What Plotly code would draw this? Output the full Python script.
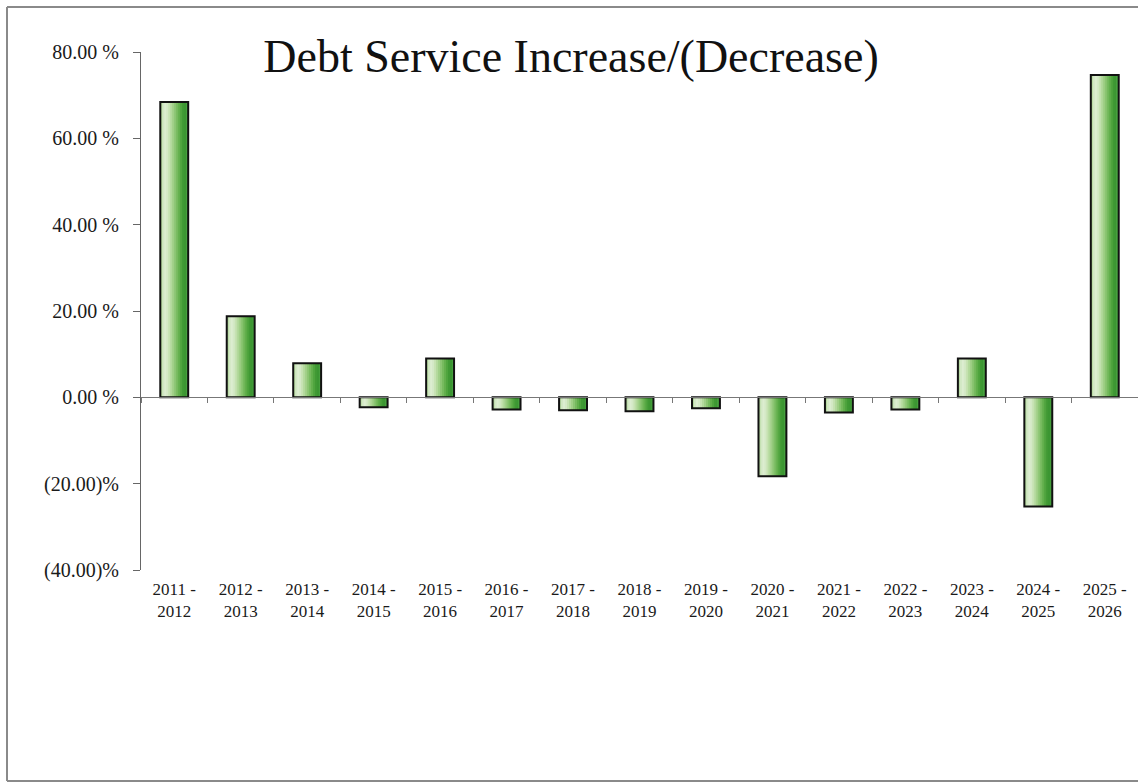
import plotly.graph_objects as go

# Fiscal-year periods and the year-over-year change in debt service (%)
periods = [
    "2011 -<br>2012", "2012 -<br>2013", "2013 -<br>2014", "2014 -<br>2015",
    "2015 -<br>2016", "2016 -<br>2017", "2017 -<br>2018", "2018 -<br>2019",
    "2019 -<br>2020", "2020 -<br>2021", "2021 -<br>2022", "2022 -<br>2023",
    "2023 -<br>2024", "2024 -<br>2025", "2025 -<br>2026",
]
change_pct = [68.4, 18.8, 7.9, -2.3, 9.0, -2.8, -3.0, -3.2, -2.5,
              -18.3, -3.5, -2.8, 9.0, -25.3, 74.7]

y_tick_vals = [-40, -20, 0, 20, 40, 60, 80]
y_tick_text = ["(40.00)%", "(20.00)%", "0.00 %", "20.00 %", "40.00 %", "60.00 %", "80.00 %"]

TITLE = "Debt Service Increase/(Decrease)"

# Horizontal shading across each bar, light on the left to deep green on the right
shade = ["#b6d9a0", "#d2e8c4", "#dcedd0", "#d4e9c6", "#c6e2b2", "#b3d99c",
         "#a0cf87", "#8bc572", "#76ba5e", "#62af4c", "#4fa43e", "#409934",
         "#3b9632", "#47a03e"]
BAR_W = 0.42
strip_w = BAR_W / len(shade)

fig = go.Figure()
for i, col in enumerate(shade):
    # strips overlap slightly so no seams show between them
    w = strip_w * 1.6 if i < len(shade) - 1 else strip_w
    fig.add_trace(go.Bar(
        x=periods, y=change_pct,
        width=w, offset=-BAR_W / 2 + i * strip_w,
        marker=dict(color=col, line=dict(width=0)),
        hoverinfo="skip", showlegend=False,
    ))

# Black outline around each bar
fig.add_trace(go.Bar(
    x=periods, y=change_pct, width=BAR_W, offset=-BAR_W / 2,
    marker=dict(color="rgba(0,0,0,0)", line=dict(color="#111111", width=2)),
    hovertemplate="%{y:.2f}%<extra></extra>", showlegend=False,
))

serif = "Liberation Serif, Times New Roman, serif"
L, T, B = 141, 52, 212
plot_h = 782 - T - B
plot_w = 1138 - L

fig.update_layout(
    width=1138, height=782,
    margin=dict(l=L, r=0, t=T, b=B),
    paper_bgcolor="white", plot_bgcolor="white",
    barmode="overlay",
    font=dict(family=serif, color="#1a1a1a"),
    title=dict(
        text=TITLE, font=dict(family=serif, size=46, color="#111111"),
        x=571 / 1138, xanchor="center", xref="container",
        y=1 - 56 / 782, yanchor="middle", yref="container",
    ),
    xaxis=dict(
        type="category",
        anchor="free", position=40 / 120,
        showline=True, linecolor="#777777", linewidth=1,
        ticks="outside", tickson="boundaries", ticklen=5, tickcolor="#777777",
        showgrid=False, zeroline=False,
        tickfont=dict(family=serif, size=17, color="#1a1a1a"),
        ticklabelstandoff=176,
        automargin=False,
    ),
    yaxis=dict(
        range=[-40, 80],
        tickvals=y_tick_vals, ticktext=y_tick_text,
        showline=True, linecolor="#666666", linewidth=1,
        ticks="outside", ticklen=7, tickcolor="#666666",
        showgrid=False, zeroline=False,
        tickfont=dict(family=serif, size=20, color="#1a1a1a"),
        ticklabelstandoff=10,
        automargin=False,
    ),
)

# Page frame on the left, top and bottom edges
x0 = (7 - L) / plot_w
y_top = 1 + (T - 7) / plot_h
y_bot = -(B - 1) / plot_h
frame = dict(color="#8a8a8a", width=2)
fig.add_shape(type="line", xref="paper", yref="paper", x0=x0, x1=x0, y0=y_bot, y1=y_top, line=frame)
fig.add_shape(type="line", xref="paper", yref="paper", x0=x0, x1=1.01, y0=y_top, y1=y_top, line=frame)
fig.add_shape(type="line", xref="paper", yref="paper", x0=x0, x1=1.01, y0=y_bot, y1=y_bot, line=frame)

fig.write_html("out.html")
